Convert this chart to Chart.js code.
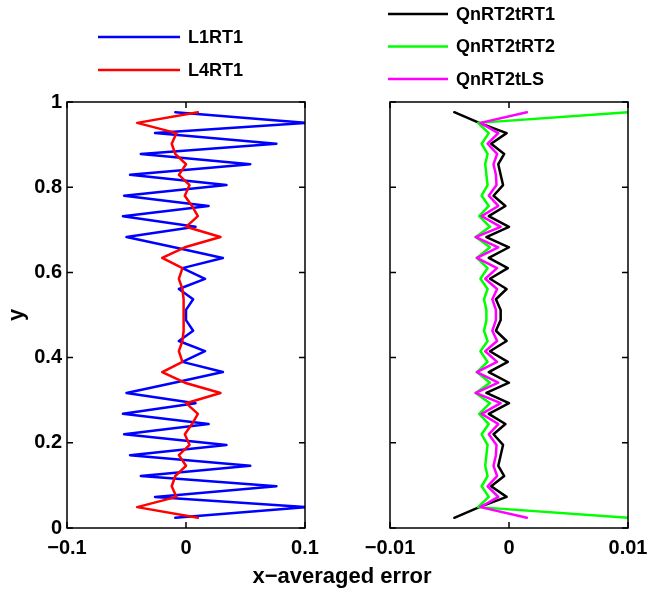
<!DOCTYPE html>
<html>
<head>
<meta charset="utf-8">
<script src="https://cdn.jsdelivr.net/npm/chart.js@4.4.0/dist/chart.umd.min.js"></script>
<style>
  body { margin: 0; background: #fff; }
  #wrap { position: relative; width: 648px; height: 591px; }
  #leftChart { position: absolute; left: 0; top: 0; }
  #rightChart { position: absolute; left: 335px; top: 0; }
  #xTitle {
    position: absolute; left: 192px; width: 300px; top: 563px;
    text-align: center; font: bold 22px "Liberation Sans", Arial, sans-serif;
    line-height: 26px; color: #000;
  }
</style>
</head>
<body>
<div id="wrap">
  <canvas id="leftChart" width="335" height="591"></canvas>
  <canvas id="rightChart" width="313" height="591"></canvas>
  <div id="xTitle">x&#8722;averaged error</div>
</div>
<script>
// vertical grid (cell centres)
const yGrid = [0.024, 0.049, 0.073, 0.098, 0.122, 0.146, 0.171, 0.195, 0.220, 0.244,
               0.268, 0.293, 0.317, 0.341, 0.366, 0.390, 0.415, 0.439, 0.463, 0.488,
               0.512, 0.537, 0.561, 0.585, 0.610, 0.634, 0.659, 0.683, 0.707, 0.732,
               0.756, 0.780, 0.805, 0.829, 0.854, 0.878, 0.902, 0.927, 0.951, 0.976];

const l1rt1 = [-0.009, 0.100, -0.026, 0.076, -0.038, 0.054, -0.047, 0.034, -0.052, 0.019,
               -0.053, 0.008, -0.050, -0.010, 0.031, -0.003, 0.016, -0.006, 0.006, 0.000,
               0.000, 0.006, -0.006, 0.016, -0.003, 0.031, -0.010, -0.050, 0.008, -0.053,
               0.019, -0.052, 0.034, -0.047, 0.054, -0.038, 0.076, -0.026, 0.100, -0.009];

const l4rt1 = [0.010, -0.041, -0.008, -0.012, -0.009, 0.000, -0.006, 0.003, -0.001, 0.005,
               0.010, 0.000, 0.029, -0.001, -0.020, -0.003, -0.006, -0.003, -0.002, -0.002,
               -0.002, -0.002, -0.003, -0.006, -0.003, -0.020, -0.001, 0.029, 0.000, 0.010,
               0.005, -0.001, 0.003, -0.006, 0.000, -0.009, -0.012, -0.008, -0.041, 0.010];

const qnRT2tRT1 = [-0.0046, -0.0025, -0.0002, -0.0015, -0.0004, -0.0009, -0.0007, -0.0005, -0.0013, -0.0003,
                   -0.0017, 0.0000, -0.0019, 0.0000, -0.0017, -0.0001, -0.0016, -0.0002, -0.0011, -0.0007,
                   -0.0007, -0.0011, -0.0002, -0.0016, -0.0001, -0.0017, 0.0000, -0.0019, 0.0000, -0.0017,
                   -0.0003, -0.0013, -0.0005, -0.0007, -0.0009, -0.0004, -0.0015, -0.0002, -0.0025, -0.0046];

const qnRT2tRT2 = [0.0100, -0.0026, -0.0017, -0.0023, -0.0018, -0.0020, -0.0019, -0.0018, -0.0023, -0.0017,
                   -0.0025, -0.0016, -0.0028, -0.0016, -0.0027, -0.0018, -0.0024, -0.0018, -0.0021, -0.0019,
                   -0.0019, -0.0021, -0.0018, -0.0024, -0.0018, -0.0027, -0.0016, -0.0028, -0.0016, -0.0025,
                   -0.0017, -0.0023, -0.0018, -0.0019, -0.0020, -0.0018, -0.0023, -0.0017, -0.0026, 0.0100];

const qnRT2tLS = [0.0015, -0.0024, -0.0009, -0.0018, -0.0010, -0.0013, -0.0011, -0.00105, -0.0017, -0.0009,
                  -0.0023, -0.0007, -0.0028, -0.0009, -0.0027, -0.0010, -0.0020, -0.0010, -0.0014, -0.0011,
                  -0.0011, -0.0014, -0.0010, -0.0020, -0.0010, -0.0027, -0.0009, -0.0028, -0.0007, -0.0023,
                  -0.0009, -0.0017, -0.00105, -0.0011, -0.0013, -0.0010, -0.0018, -0.0009, -0.0024, 0.0015];

const yTicks = [0, 0.2, 0.4, 0.6, 0.8, 1];
const xTicksLeft = [-0.1, 0, 0.1];
const xTicksRight = [-0.01, 0, 0.01];

const FONT = '"Liberation Sans", Arial, sans-serif';

function toPoints(xs) {
  return xs.map((v, i) => ({ x: v, y: yGrid[i] }));
}

function fmtTick(v) {
  return v === 0 ? '0' : String(v).replace('-', '\u2212');
}

// box around the plot area with inward tick marks on all four sides
const framePlugin = {
  id: 'frame',
  afterDatasetsDraw(chart) {
    const { ctx, chartArea: a } = chart;
    const x = chart.scales.x, y = chart.scales.y;
    const len = 6;
    ctx.save();
    ctx.strokeStyle = '#000';
    ctx.lineWidth = 1.5;
    ctx.strokeRect(a.left, a.top, a.right - a.left, a.bottom - a.top);
    ctx.beginPath();
    x.ticks.forEach(t => {
      const px = x.getPixelForValue(t.value);
      ctx.moveTo(px, a.bottom); ctx.lineTo(px, a.bottom - len);
      ctx.moveTo(px, a.top); ctx.lineTo(px, a.top + len);
    });
    y.ticks.forEach(t => {
      const py = y.getPixelForValue(t.value);
      ctx.moveTo(a.left, py); ctx.lineTo(a.left + len, py);
      ctx.moveTo(a.right, py); ctx.lineTo(a.right - len, py);
    });
    ctx.stroke();
    ctx.restore();
  }
};

// legend entries stacked above the plot
const legendPlugin = {
  id: 'stackLegend',
  afterDraw(chart, args, opts) {
    const { ctx } = chart;
    ctx.save();
    ctx.font = 'bold 18px ' + FONT;
    ctx.textBaseline = 'middle';
    ctx.fillStyle = '#000';
    chart.data.datasets.forEach((ds, i) => {
      const y = opts.top + i * opts.row;
      ctx.strokeStyle = ds.borderColor;
      ctx.lineWidth = 2.5;
      ctx.beginPath();
      ctx.moveTo(opts.x, y);
      ctx.lineTo(opts.x + opts.len, y);
      ctx.stroke();
      ctx.fillText(ds.label, opts.x + opts.len + 8, y + 1);
    });
    ctx.restore();
  }
};

function makeChart(id, datasets, xTicks, opt) {
  return new Chart(document.getElementById(id), {
    type: 'scatter',
    data: { datasets: datasets },
    options: {
      responsive: false,
      animation: false,
      layout: { padding: { top: 102, right: opt.padRight, left: 0, bottom: 0 } },
      elements: {
        point: { radius: 0 },
        line: { borderJoinStyle: 'round', borderCapStyle: 'round' }
      },
      plugins: {
        legend: { display: false },
        tooltip: { enabled: false },
        stackLegend: opt.legend
      },
      scales: {
        x: {
          type: 'linear',
          min: xTicks[0],
          max: xTicks[xTicks.length - 1],
          afterBuildTicks: s => { s.ticks = xTicks.map(v => ({ value: v })); },
          afterFit: s => { s.height = 63; s.paddingLeft = 0; s.paddingRight = 0; },
          grid: { display: false, drawTicks: false },
          border: { display: false },
          ticks: {
            color: '#000', padding: 8, maxRotation: 0,
            font: { family: FONT, size: 20, weight: 'bold' },
            callback: v => fmtTick(v)
          }
        },
        y: {
          type: 'linear',
          min: 0,
          max: 1,
          afterBuildTicks: s => { s.ticks = yTicks.map(v => ({ value: v })); },
          afterFit: s => { s.width = opt.yWidth; s.paddingTop = 0; s.paddingBottom = 0; },
          grid: { display: false, drawTicks: false },
          border: { display: false },
          title: {
            display: opt.showY,
            text: 'y',
            color: '#000',
            font: { family: FONT, size: 22, weight: 'bold' }
          },
          ticks: {
            display: opt.showY,
            color: '#000', padding: 5,
            font: { family: FONT, size: 20, weight: 'bold' },
            callback: v => String(v)
          }
        }
      }
    },
    plugins: [framePlugin, legendPlugin]
  });
}

makeChart('leftChart', [
  { label: 'L1RT1', data: toPoints(l1rt1), showLine: true, borderColor: '#0000ff', borderWidth: 2.5, order: 2 },
  { label: 'L4RT1', data: toPoints(l4rt1), showLine: true, borderColor: '#ff0000', borderWidth: 2.5, order: 1 }
], xTicksLeft, { padRight: 30, yWidth: 67, showY: true, legend: { x: 98, len: 82, top: 37, row: 33 } });

makeChart('rightChart', [
  { label: 'QnRT2tRT1', data: toPoints(qnRT2tRT1), showLine: true, borderColor: '#000000', borderWidth: 2.5, order: 3 },
  { label: 'QnRT2tRT2', data: toPoints(qnRT2tRT2), showLine: true, borderColor: '#00ff00', borderWidth: 2.5, order: 2 },
  { label: 'QnRT2tLS', data: toPoints(qnRT2tLS), showLine: true, borderColor: '#ff00ff', borderWidth: 2.5, order: 1 }
], xTicksRight, { padRight: 20, yWidth: 55, showY: false, legend: { x: 53, len: 60, top: 14, row: 32.5 } });
</script>
</body>
</html>
